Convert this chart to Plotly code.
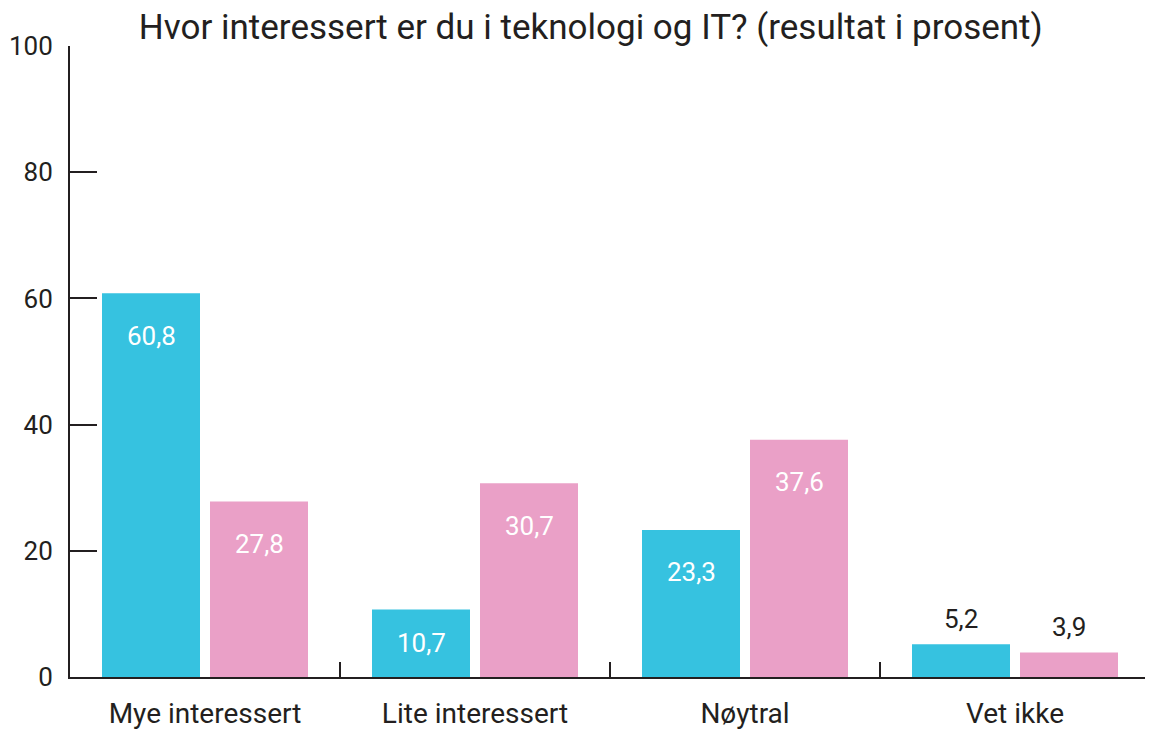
import plotly.graph_objects as go

categories = ["Mye interessert", "Lite interessert", "Nøytral", "Vet ikke"]
series_a = [60.8, 10.7, 23.3, 5.2]
series_b = [27.8, 30.7, 37.6, 3.9]

cyan = "#36C2E0"
pink = "#EAA0C7"
ink = "#231F20"
font = "Roboto, 'Noto Sans', sans-serif"

fig = go.Figure()
fig.add_trace(go.Bar(x=categories, y=series_a, marker=dict(color=cyan, line=dict(width=0)), showlegend=False))
fig.add_trace(go.Bar(x=categories, y=series_b, marker=dict(color=pink, line=dict(width=0)), showlegend=False))

# verdietiketter
bargap, groupgap = 0.2, 0.0926
offset = (1 - bargap) / 4
annotations = []
for vals, sign in ((series_a, -1), (series_b, 1)):
    for i, v in enumerate(vals):
        txt = f"{v:.1f}".replace(".", ",")
        if v < 8:
            annotations.append(dict(x=i + sign * offset, y=v, xref="x", yref="y", text=txt,
                                    showarrow=False, yanchor="middle", yshift=25,
                                    font=dict(size=26, color=ink, family=font)))
        else:
            annotations.append(dict(x=i + sign * offset, y=max(v - 6.7, v / 2), xref="x", yref="y",
                                    text=txt, showarrow=False, yanchor="middle",
                                    font=dict(size=26, color="white", family=font)))

# siden har 8 px marg rundt figuren
fig.update_layout(
    width=1145, height=723,
    margin=dict(l=62, r=3, t=38, b=54),
    plot_bgcolor="white", paper_bgcolor="white",
    barmode="group", bargap=bargap, bargroupgap=groupgap,
    font=dict(family=font, color=ink, size=25),
    title=dict(text="Hvor interessert er du i teknologi og IT? (resultat i prosent)",
               x=0.509, xanchor="center", y=1 - 19 / 723, yanchor="middle", yref="container",
               font=dict(size=35, color=ink, family=font)),
    annotations=annotations,
)
fig.update_yaxes(range=[0, 100], tickvals=[0, 20, 40, 60, 80, 100], ticks="inside", ticklen=27,
                 tickwidth=2, tickcolor=ink, showline=True, linecolor=ink, linewidth=2,
                 showgrid=False, zeroline=False, ticklabelstandoff=10, tickfont=dict(size=26),
                 automargin=False)
fig.update_xaxes(range=[-0.5, 3.5], ticks="inside", tickson="boundaries", ticklen=15, tickwidth=2,
                 tickcolor=ink, showline=True, linecolor=ink, linewidth=2, showgrid=False,
                 ticklabelstandoff=10, tickfont=dict(size=28), automargin=False)

fig.write_html("out.html")
